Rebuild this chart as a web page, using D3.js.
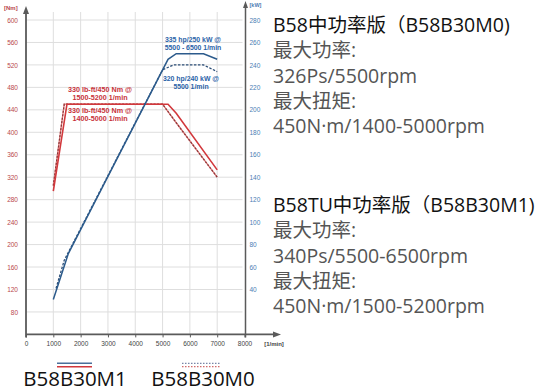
<!DOCTYPE html>
<html><head><meta charset="utf-8">
<script src="https://cdn.jsdelivr.net/npm/d3@7"></script>
<style>
html,body{margin:0;padding:0;background:#fff;}
svg{display:block;}
</style></head>
<body>
<script>
// ---- data ----
const rpmTicks = [0,1000,2000,3000,4000,5000,6000,7000,8000];
const torqueTicks = [80,120,160,200,240,280,320,360,400,440,480,520,560,600];
const powerTicks = [40,60,80,100,120,140,160,180,200,220,240,260,280];
// B58B30M1 (solid)
const m1TorqueRpm = [1000,1500,5200,5500,7000];
const m1Torque    = [295, 450, 450, 434, 333];
const m1PowerRpm  = [1000,1550,5200,5500,6500,7000];
const m1Power     = [31,  72,  245, 250, 250, 245];
// B58B30M0 (dashed)
const m0TorqueRpm = [1000,1400,5000,5500,7000];
const m0Torque    = [305, 450, 450, 417, 320];
const m0PowerRpm  = [1100,1400,5000,5400,6500,7000];
const m0Power     = [41,  66,  235.6,240,240, 234];

const annRed = [["330 lb-ft/450 Nm @","1500-5200 1/min"],["330 lb-ft/450 Nm @","1400-5000 1/min"]];
const annBlue = [["335 hp/250 kW @","5500 - 6500  1/min"],["320 hp/240 kW @","5500 1/min"]];
const legendNames = ["B58B30M1","B58B30M0"];
const block1 = ["B58中功率版（B58B30M0)","最大功率:","326Ps/5500rpm","最大扭矩:","450N·m/1400-5000rpm"];
const block2 = ["B58TU中功率版（B58B30M1)","最大功率:","340Ps/5500-6500rpm","最大扭矩:","450N·m/1500-5200rpm"];

// ---- layout ----
const W=553,H=391;
const svg=d3.select("body").append("svg").attr("width",W).attr("height",H);
const x=d3.scaleLinear().domain([0,8000]).range([26,244.5]);
const yT=d3.scaleLinear().domain([40,600]).range([334.4,20]);
const yP=d3.scaleLinear().domain([0,280]).range([334.4,20]);

const RED="#d2383c", BLUE="#2c5b8c", AX="#5a5a5a", GRID="#dedede";
const lab="'Liberation Sans',Arial,sans-serif";

// grid
const g=svg.append("g");
g.selectAll(".hg").data(torqueTicks).join("line")
  .attr("x1",x(0)).attr("x2",x(8000)-2).attr("y1",d=>yT(d)).attr("y2",d=>yT(d))
  .attr("stroke",GRID).attr("stroke-width",1);
g.selectAll(".vg").data(rpmTicks.slice(1,-1)).join("line")
  .attr("x1",d=>x(d)).attr("x2",d=>x(d)).attr("y1",12).attr("y2",yT(40))
  .attr("stroke",GRID).attr("stroke-width",1);

// axes
const xAxis=d3.axisBottom(x).tickValues(rpmTicks).tickSize(3).tickFormat(d3.format("d"));
const xa=svg.append("g").attr("transform",`translate(0,${yT(40)})`).call(xAxis);
xa.select(".domain").remove();
xa.selectAll(".tick line").attr("stroke",AX);
xa.selectAll(".tick text").attr("font-family",lab).attr("font-size",6.5).attr("fill","#444").attr("dy","0.9em");
svg.append("line").attr("x1",x(0)).attr("x2",276).attr("y1",yT(40)).attr("y2",yT(40)).attr("stroke",AX).attr("stroke-width",1.8);
svg.append("path").attr("d",`M281,${yT(40)} L273,${yT(40)-3} L273,${yT(40)+3} Z`).attr("fill",AX);
svg.append("text").attr("x",274).attr("y",345.5).attr("text-anchor","middle").attr("font-family",lab).attr("font-size",6).attr("font-weight","bold").attr("fill","#444").text("[1/min]");

const yAxisL=d3.axisLeft(yT).tickValues(torqueTicks).tickSize(0).tickPadding(8);
const ya=svg.append("g").attr("transform",`translate(${x(0)},0)`).call(yAxisL);
ya.select(".domain").remove();
ya.selectAll(".tick text").attr("font-family",lab).attr("font-size",6.5).attr("fill","#b8474c");
svg.append("line").attr("x1",x(0)).attr("x2",x(0)).attr("y1",12).attr("y2",yT(40)+3).attr("stroke",AX).attr("stroke-width",1.8);
svg.append("path").attr("d",`M${x(0)},6 L${x(0)-3},14 L${x(0)+3},14 Z`).attr("fill",AX);
svg.append("text").attr("x",4).attr("y",10).attr("font-family",lab).attr("font-size",6).attr("font-weight","bold").attr("fill","#b8474c").text("[Nm]");

const xr=x(8000)+1;
const yAxisR=d3.axisRight(yP).tickValues(powerTicks).tickSize(0).tickPadding(4);
const yr=svg.append("g").attr("transform",`translate(${xr},0)`).call(yAxisR);
yr.select(".domain").remove();
yr.selectAll(".tick text").attr("font-family",lab).attr("font-size",6.5).attr("fill","#4b7db3");
svg.append("line").attr("x1",xr).attr("x2",xr).attr("y1",6).attr("y2",yT(40)+3).attr("stroke",AX).attr("stroke-width",1.5);
svg.append("path").attr("d",`M${xr},1 L${xr-2.5},8 L${xr+2.5},8 Z`).attr("fill",AX);
svg.append("text").attr("x",xr+4).attr("y",7).attr("font-family",lab).attr("font-size",5.5).attr("font-weight","bold").attr("fill","#4b7db3").text("[kW]");

// curves
const lineT=d3.line().x(d=>x(d[0])).y(d=>yT(d[1]));
const lineP=d3.line().x(d=>x(d[0])).y(d=>yP(d[1]));
const zip=(a,b)=>a.map((v,i)=>[v,b[i]]);

svg.append("path").attr("d",lineT(zip(m0TorqueRpm,m0Torque))).attr("fill","none").attr("stroke","#e07a7a").attr("stroke-width",1.3);
svg.append("path").attr("d",lineT(zip(m0TorqueRpm,m0Torque))).attr("fill","none").attr("stroke","#8c3a3c").attr("stroke-width",1.3).attr("stroke-dasharray","2,1.5");
svg.append("path").attr("d",lineT(zip(m1TorqueRpm,m1Torque))).attr("fill","none").attr("stroke",RED).attr("stroke-width",1.6);
svg.append("path").attr("d",lineP(zip(m0PowerRpm,m0Power))).attr("fill","none").attr("stroke","#2d4f78").attr("stroke-width",1.3).attr("stroke-dasharray","2.5,1.5");
svg.append("path").attr("d",lineP(zip(m1PowerRpm,m1Power))).attr("fill","none").attr("stroke",BLUE).attr("stroke-width",1.5);

// annotations
function ann(lines,cx,y0,col,fs){
  lines.forEach((t,i)=>svg.append("text").attr("x",cx).attr("y",y0+i*8.4).attr("text-anchor","middle")
    .attr("font-family",lab).attr("font-size",fs).attr("font-weight","bold").attr("fill",col).text(t));
}
ann(annRed[0],100,91.5,"#c8323a",7.2);
ann(annRed[1],100,112.5,"#c8323a",7.2);
ann(annBlue[0],193,41.5,"#2a63a8",6.9);
ann(annBlue[1],191,81,"#2a63a8",6.9);

// legend
const txtFont="'Open Sans','Noto Sans CJK SC',sans-serif";
svg.append("line").attr("x1",57).attr("x2",92).attr("y1",363.3).attr("y2",363.3).attr("stroke","#4a6f9a").attr("stroke-width",1.6);
svg.append("line").attr("x1",57).attr("x2",92).attr("y1",366.7).attr("y2",366.7).attr("stroke",RED).attr("stroke-width",1.6);
svg.append("line").attr("x1",182).attr("x2",220).attr("y1",363.3).attr("y2",363.3).attr("stroke","#7a86a8").attr("stroke-width",1.3).attr("stroke-dasharray","1.5,1.5");
svg.append("line").attr("x1",182).attr("x2",220).attr("y1",366.7).attr("y2",366.7).attr("stroke","#d06a6a").attr("stroke-width",1.3).attr("stroke-dasharray","1.5,1.5");
svg.append("text").attr("x",75).attr("y",385.5).attr("text-anchor","middle").attr("font-family",txtFont).attr("font-size",20.5).attr("fill","#111").text(legendNames[0]);
svg.append("text").attr("x",203).attr("y",385.5).attr("text-anchor","middle").attr("font-family",txtFont).attr("font-size",20.5).attr("fill","#111").text(legendNames[1]);

// right text blocks
const b1y=[32,57,82.5,108,133], b2y=[212,237,263,288,313];
function block(lines,ys){
  lines.forEach((t,i)=>svg.append("text").attr("x",273).attr("y",ys[i]).attr("font-family",txtFont)
    .attr("font-size",19.5).attr("fill",i===0?"#111":"#555").text(t));
}
block(block1,b1y);
block(block2,b2y);
</script>
</body></html>
